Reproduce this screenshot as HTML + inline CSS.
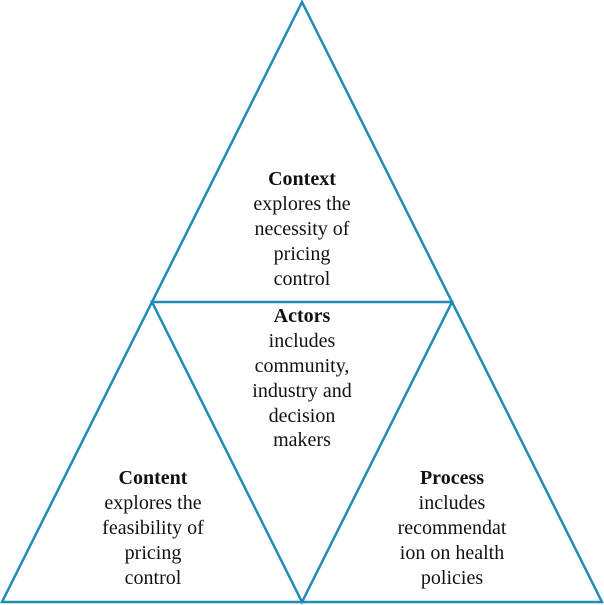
<!DOCTYPE html>
<html><head><meta charset="utf-8"><style>
html,body{margin:0;padding:0;background:#fff;}
svg{display:block;}
text{font-family:"Liberation Serif",serif;font-size:20px;fill:#111;}
.b{font-weight:bold;}
</style></head><body>
<svg width="604" height="605" viewBox="0 0 604 605">
<g fill="none" stroke="#1e8bb5" stroke-width="2.5" stroke-linejoin="miter">
<polygon points="302,2 2,602 602,602"/>
<polygon points="152,302 452,302 302,602"/>
</g>
<g text-anchor="middle">
<text x="302" y="185" class="b">Context</text>
<text x="302" y="210">explores the</text>
<text x="302" y="235">necessity of</text>
<text x="302" y="260">pricing</text>
<text x="302" y="285">control</text>

<text x="302" y="322" class="b">Actors</text>
<text x="302" y="347">includes</text>
<text x="302" y="372">community,</text>
<text x="302" y="397">industry and</text>
<text x="302" y="422">decision</text>
<text x="302" y="446">makers</text>

<text x="153" y="484" class="b">Content</text>
<text x="153" y="509">explores the</text>
<text x="153" y="534">feasibility of</text>
<text x="153" y="559">pricing</text>
<text x="153" y="584">control</text>

<text x="452" y="484" class="b">Process</text>
<text x="452" y="509">includes</text>
<text x="452" y="534">recommendat</text>
<text x="452" y="559">ion on health</text>
<text x="452" y="584">policies</text>
</g>
</svg>
</body></html>
